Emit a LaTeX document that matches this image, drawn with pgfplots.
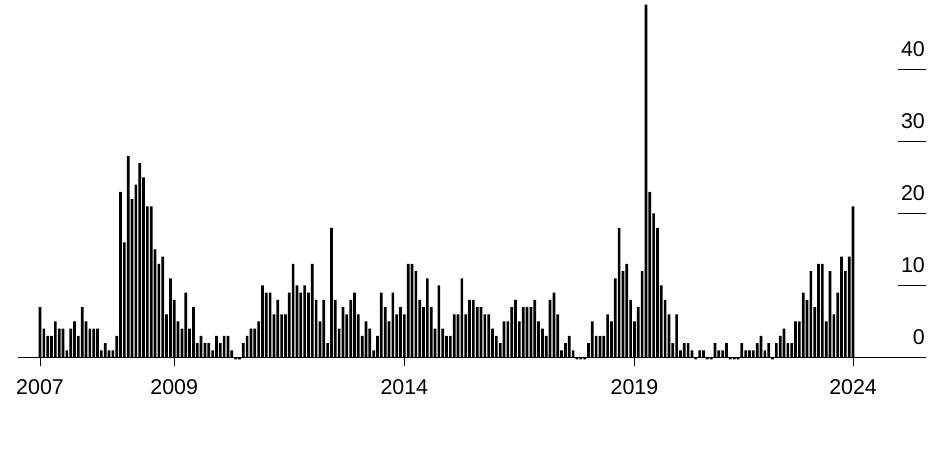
\documentclass[border=0pt]{standalone}
\usepackage{fontspec}
\setmainfont{Liberation Sans}
\usepackage{pgfplots}
\pgfplotsset{compat=1.18}
\pgfplotstableread{
x y
0 7
1 4
2 3
3 3
4 5
5 4
6 4
7 1
8 4
9 5
10 3
11 7
12 5
13 4
14 4
15 4
16 1
17 2
18 1
19 1
20 3
21 23
22 16
23 28
24 22
25 24
26 27
27 25
28 21
29 21
30 15
31 13
32 14
33 6
34 11
35 8
36 5
37 4
38 9
39 4
40 7
41 2
42 3
43 2
44 2
45 1
46 3
47 2
48 3
49 3
50 1
51 -0.25
52 -0.25
53 2
54 3
55 4
56 4
57 5
58 10
59 9
60 9
61 6
62 8
63 6
64 6
65 9
66 13
67 10
68 9
69 10
70 9
71 13
72 8
73 5
74 8
75 2
76 18
77 8
78 4
79 7
80 6
81 8
82 9
83 6
84 3
85 5
86 4
87 1
88 3
89 9
90 7
91 5
92 9
93 6
94 7
95 6
96 13
97 13
98 12
99 8
100 7
101 11
102 7
103 4
104 10
105 4
106 3
107 3
108 6
109 6
110 11
111 6
112 8
113 8
114 7
115 7
116 6
117 6
118 4
119 3
120 2
121 5
122 5
123 7
124 8
125 5
126 7
127 7
128 7
129 8
130 5
131 4
132 3
133 8
134 9
135 6
136 1
137 2
138 3
139 1
140 -0.25
141 -0.25
142 -0.25
143 2
144 5
145 3
146 3
147 3
148 6
149 5
150 11
151 18
152 12
153 13
154 8
155 5
156 7
157 12
158 49
159 23
160 20
161 18
162 10
163 8
164 6
165 2
166 6
167 1
168 2
169 2
170 1
171 -0.25
172 1
173 1
174 -0.25
175 -0.25
176 2
177 1
178 1
179 2
180 -0.25
181 -0.25
182 -0.25
183 2
184 1
185 1
186 1
187 2
188 3
189 1
190 2
191 -0.25
192 2
193 3
194 4
195 2
196 2
197 5
198 5
199 9
200 8
201 12
202 7
203 13
204 13
205 5
206 12
207 6
208 9
209 14
210 12
211 14
212 21
}\datatable
\begin{document}
\begin{tikzpicture}
\path[use as bounding box] (0,0) rectangle (945bp,451bp);
\begin{axis}[
  at={(18bp,93.5bp)}, anchor=south west,
  scale only axis, width=906bp, height=356.4bp,
  xmin=-5.74, xmax=230.5, ymin=0, ymax=49.5,
  clip=false,
  axis x line*=bottom, axis y line=none,
  x axis line style={line width=1.3bp, black},
  xtick={0,35,95,155,212}, xticklabels={2007,2009,2014,2019,2024},
  tick align=outside, major tick length=8bp,
  xtick style={line width=1bp, black},
  tick label style={font=\fontsize{21.4bp}{25bp}\selectfont, inner sep=0pt, black},
  xticklabel style={anchor=base, yshift=-29bp},
  ybar, bar width=0.7,
]
\addplot[fill=black, draw=none] table[x=x, y=y] {\datatable};
\end{axis}
\begin{axis}[
  at={(18bp,93.5bp)}, anchor=south west,
  scale only axis, width=908bp, height=356.4bp,
  xmin=0, xmax=1, ymin=0, ymax=49.5,
  hide x axis, axis y line*=right,
  y axis line style={draw=none},
  ytick={0,10,20,30,40},
  tick align=inside, major tick length=28.5bp,
  ytick style={line width=1.3bp, black},
  tick label style={font=\fontsize{21.4bp}{25bp}\selectfont, inner sep=0pt, black},
  yticklabel style={anchor=base east, xshift=-1bp, yshift=13bp},
  /pgf/number format/assume math mode=true,
]
\end{axis}
\end{tikzpicture}
\end{document}
